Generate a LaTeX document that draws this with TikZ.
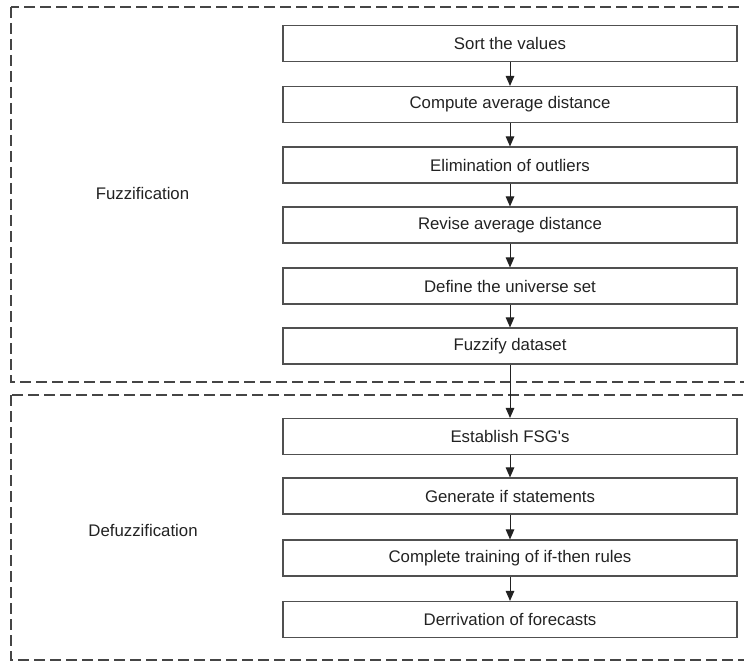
\documentclass[tikz,border=0pt]{standalone}
\usepackage{fontspec}
\setmainfont{Liberation Sans}
\usetikzlibrary{arrows.meta}
\definecolor{boxline}{HTML}{505050}
\definecolor{txt}{HTML}{222222}
\definecolor{dashc}{HTML}{454545}
\begin{document}
\begin{tikzpicture}[x=1pt,y=-1pt,
  stepbox/.style={draw=boxline,line width=1.1pt,minimum width=454pt,minimum height=36pt,inner sep=0pt,text=txt,font=\fontsize{16.8}{20}\selectfont},
  grouplbl/.style={text=txt,font=\fontsize{16.8}{20}\selectfont,inner sep=0pt},
  region/.style={draw=dashc,line width=1.5pt,dash pattern=on 11pt off 5pt},
  flow/.style={draw=txt,line width=1pt,-{Triangle[length=10pt,width=8.5pt]}}]
\useasboundingbox (0,0) rectangle (744,663);
\begin{scope}
\clip (0,0) rectangle (744,663);
\draw[region] (11,7) rectangle (760,382);
\draw[region] (11,395) rectangle (760,660);
\end{scope}
\node[stepbox] (s1) at (510,43.5) {Sort the values};
\node[stepbox] (s2) at (510,104.5) {Compute average distance};
\node[stepbox] (s3) at (510,165) {Elimination of outliers};
\node[stepbox] (s4) at (510,225) {Revise average distance};
\node[stepbox] (s5) at (510,286) {Define the universe set};
\node[stepbox] (s6) at (510,346) {Fuzzify dataset};
\node[stepbox] (s7) at (510,436.5) {Establish FSG\textquotesingle s};
\node[stepbox] (s8) at (510,496) {Generate if statements};
\node[stepbox] (s9) at (510,558) {Complete training of if-then rules};
\node[stepbox] (s10) at (510,619.5) {Derrivation of forecasts};
\node[grouplbl] (fz) at (142.5,193) {Fuzzification};
\node[grouplbl] (dfz) at (143,530) {Defuzzification};
\foreach \a/\b in {s1/s2,s2/s3,s3/s4,s4/s5,s5/s6,s6/s7,s7/s8,s8/s9,s9/s10}
  \draw[flow] (\a.south) -- (\b.north);
\end{tikzpicture}
\end{document}
